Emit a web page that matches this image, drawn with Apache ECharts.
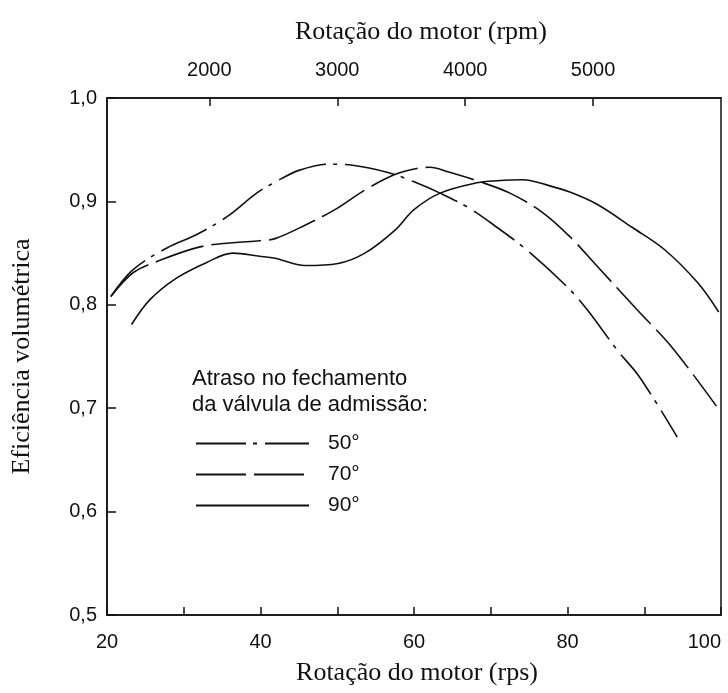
<!DOCTYPE html>
<html><head><meta charset="utf-8">
<script src="https://cdn.jsdelivr.net/npm/echarts@6/dist/echarts.min.js"></script>
<style>html,body{margin:0;padding:0;background:#fff}#c{width:728px;height:693px}</style>
</head><body><div id="c"></div>
<script>
// Engine speed (rps) and volumetric efficiency
const speed50 = [20.5, 23.4, 27.8, 31.7, 35.6, 39.5, 42.0, 45.0, 48.8, 52.0, 56.6, 60.0, 63.4, 67.3, 70.8, 74.7, 80.0, 82.6, 86.5, 89.4, 94.3];
const eff50   = [0.808, 0.834, 0.855, 0.868, 0.885, 0.908, 0.919, 0.930, 0.936, 0.935, 0.928, 0.919, 0.908, 0.893, 0.875, 0.853, 0.817, 0.795, 0.756, 0.730, 0.672];
const speed70 = [20.5, 23.4, 26.9, 32.1, 36.4, 39.9, 41.9, 45.8, 49.7, 53.6, 57.5, 60.5, 62.1, 64.3, 68.2, 72.5, 76.8, 80.3, 83.9, 89.1, 93.6, 99.4];
const eff70   = [0.808, 0.831, 0.843, 0.856, 0.860, 0.862, 0.864, 0.877, 0.892, 0.911, 0.926, 0.932, 0.933, 0.929, 0.920, 0.908, 0.889, 0.866, 0.837, 0.795, 0.759, 0.702];
const speed90 = [23.2, 25.6, 29.1, 33.0, 36.4, 39.9, 41.9, 45.8, 50.1, 53.6, 57.5, 60.0, 63.4, 68.2, 70.8, 74.2, 77.7, 80.3, 83.9, 88.4, 92.7, 97.0, 99.7];
const eff90   = [0.781, 0.805, 0.826, 0.841, 0.850, 0.847, 0.845, 0.838, 0.840, 0.850, 0.872, 0.892, 0.908, 0.918, 0.920, 0.921, 0.915, 0.909, 0.897, 0.875, 0.853, 0.821, 0.793];

const seriesNames = ['50°', '70°', '90°'];
const rpmTicks = [2000, 3000, 4000, 5000];
const legendTitle = 'Atraso no fechamento\nda válvula de admissão:';
const xTitle = 'Rotação do motor (rps)';
const topTitle = 'Rotação do motor (rpm)';
const yTitle = 'Eficiência volumétrica';

const pair = (xs, ys) => xs.map((x, i) => [x, ys[i]]);
const INK = '#111';
const SANS = "'Liberation Sans', Arial, sans-serif";
const SERIF = "'Liberation Serif', 'Times New Roman', serif";

const chart = echarts.init(document.getElementById('c'), null, {renderer: 'canvas'});
const lineBase = {type: 'line', smooth: 0.35, symbol: 'none', showSymbol: false, silent: true};
const nameStyle = {fontFamily: SERIF, fontSize: 26, color: INK};
chart.setOption({
  animation: false,
  backgroundColor: '#fff',
  grid: {left: 107, top: 98, width: 614, height: 517, outerBoundsMode: 'none', containLabel: false,
    show: true, borderColor: INK, borderWidth: 1.5, backgroundColor: 'transparent'},
  xAxis: [{
    type: 'value', min: 20, max: 100, interval: 10, position: 'bottom',
    name: xTitle, nameLocation: 'middle', nameGap: 45, nameMoveOverlap: false,
    nameTextStyle: Object.assign({}, nameStyle, {padding: [0, 0, 0, 6]}),
    axisLine: {show: true, lineStyle: {color: INK, width: 1.5}},
    axisTick: {show: true, inside: true, length: 8, lineStyle: {color: INK, width: 1.5}},
    axisLabel: {margin: 17, fontFamily: SANS, fontSize: 20, color: INK, alignMaxLabel: 'right',
      formatter: v => (v % 20 === 0 ? String(v) : '')},
    splitLine: {show: false}
  }, {
    type: 'value', min: 1200, max: 6000, position: 'top',
    name: topTitle, nameLocation: 'middle', nameGap: 53, nameMoveOverlap: false,
    nameTextStyle: Object.assign({}, nameStyle, {padding: [0, 0, 0, 14]}),
    axisLine: {show: true, lineStyle: {color: INK, width: 1.5}},
    axisTick: {show: true, inside: true, length: 8, customValues: rpmTicks, lineStyle: {color: INK, width: 1.5}},
    axisLabel: {margin: 18, fontFamily: SANS, fontSize: 20, color: INK, customValues: rpmTicks,
      formatter: v => String(v)},
    splitLine: {show: false}
  }],
  yAxis: [{
    type: 'value', min: 0.5, max: 1.0, interval: 0.1,
    name: yTitle, nameLocation: 'middle', nameGap: 72, nameRotate: 90, nameMoveOverlap: false,
    nameTextStyle: nameStyle,
    axisLine: {show: true, lineStyle: {color: INK, width: 1.5}},
    axisTick: {show: true, inside: true, length: 9, lineStyle: {color: INK, width: 1.5}},
    axisLabel: {margin: 10, fontFamily: SANS, fontSize: 20, color: INK,
      formatter: v => v.toFixed(1).replace('.', ',')},
    splitLine: {show: false}
  }],
  legend: {
    data: seriesNames, orient: 'vertical', left: 195, top: 433, padding: 0,
    itemWidth: 113, itemHeight: 20, itemGap: 10,
    itemStyle: {opacity: 0},
    textStyle: {fontFamily: SANS, fontSize: 21, color: INK, padding: [0, 0, 0, 14]},
    selectedMode: false
  },
  graphic: [{
    type: 'text', left: 192, top: 366,
    style: {text: legendTitle, font: "22px 'Liberation Sans', Arial, sans-serif", fill: INK, lineHeight: 26}
  }],
  series: [
    Object.assign({}, lineBase, {name: seriesNames[0], data: pair(speed50, eff50),
      lineStyle: {color: INK, width: 1.6, type: [50, 7, 4, 8]}, itemStyle: {color: INK}}),
    Object.assign({}, lineBase, {name: seriesNames[1], data: pair(speed70, eff70),
      lineStyle: {color: INK, width: 1.6, type: [50, 8]}, itemStyle: {color: INK}}),
    Object.assign({}, lineBase, {name: seriesNames[2], data: pair(speed90, eff90),
      lineStyle: {color: INK, width: 1.6, type: 'solid'}, itemStyle: {color: INK}})
  ]
});
</script>
</body></html>
